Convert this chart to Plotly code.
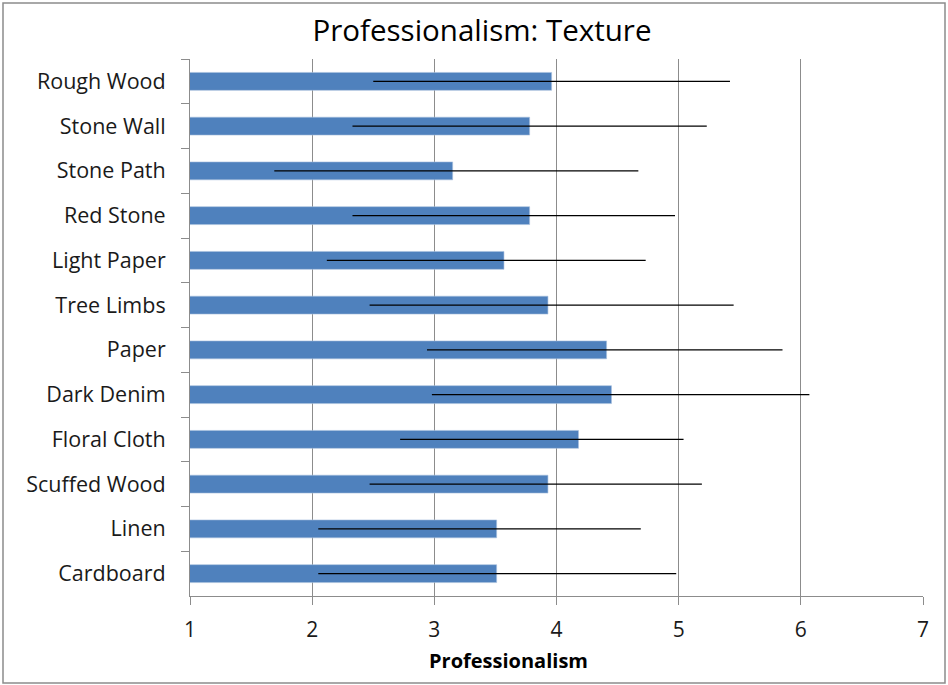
import plotly.graph_objects as go

categories = ["Rough Wood", "Stone Wall", "Stone Path", "Red Stone", "Light Paper",
              "Tree Limbs", "Paper", "Dark Denim", "Floral Cloth", "Scuffed Wood",
              "Linen", "Cardboard"]
means = [3.96, 3.78, 3.15, 3.78, 3.57, 3.93, 4.41, 4.45, 4.18, 3.93, 3.51, 3.51]
err_low = [2.50, 2.33, 1.69, 2.33, 2.12, 2.47, 2.94, 2.98, 2.72, 2.47, 2.05, 2.05]
err_high = [5.42, 5.23, 4.67, 4.97, 4.73, 5.45, 5.85, 6.07, 5.04, 5.19, 4.69, 4.98]
x_ticks = [1, 2, 3, 4, 5, 6, 7]

plus = [h - m for h, m in zip(err_high, means)]
minus = [m - l for m, l in zip(means, err_low)]

W, H = 948, 685
L, R, T, B = 190, 25, 59, 89
pw, ph = W - L - R, H - T - B

fig = go.Figure(go.Bar(
    y=categories, x=means, orientation="h",
    marker=dict(color="#4F81BD", line=dict(color="#A7BFDE", width=0.6)),
    error_x=dict(type="data", symmetric=False, array=plus, arrayminus=minus,
                 color="black", thickness=1.1, width=0),
))

fig.update_layout(
    width=W, height=H,
    margin=dict(l=L, r=R, t=T, b=B),
    paper_bgcolor="white", plot_bgcolor="white",
    bargap=0.6,
    showlegend=False,
    font=dict(family="Open Sans", color="#1a1a1a"),
    title=dict(text="Professionalism: Texture", x=482 / W, xref="container",
               xanchor="center", y=1 - 31 / H, yref="container", yanchor="middle",
               font=dict(size=29.5, family="Open Sans", color="black")),
    xaxis=dict(range=[1, 7], tickvals=x_ticks, showgrid=True, gridcolor="#8c8c8c",
               gridwidth=1, showline=True, linecolor="#8c8c8c", linewidth=1,
               ticks="outside", ticklen=8, tickcolor="#8c8c8c",
               tickfont=dict(size=21, color="#1a1a1a"), ticklabelstandoff=7,
               zeroline=False, fixedrange=True),
    yaxis=dict(categoryorder="array", categoryarray=categories, autorange="reversed",
               showline=True, linecolor="#8c8c8c", linewidth=1, showgrid=False,
               ticks="outside", tickson="boundaries", ticklen=8, tickcolor="#8c8c8c",
               tickfont=dict(size=21.5, color="#1a1a1a"), ticklabelstandoff=19,
               fixedrange=True),
    annotations=[dict(text="<b>Professionalism</b>", xref="paper", yref="paper",
                      x=(508 - L) / pw, y=-(660 - (H - B)) / ph,
                      xanchor="center", yanchor="middle", showarrow=False,
                      font=dict(size=20, family="Open Sans", color="black"))],
    shapes=[dict(type="rect", xref="paper", yref="paper",
                 x0=(3 - L) / pw, x1=(945 - L) / pw,
                 y0=-(683 - (H - B)) / ph, y1=1 + (T - 3) / ph,
                 line=dict(color="#8c8c8c", width=1.5), fillcolor="rgba(0,0,0,0)",
                 layer="below")],
)

fig.write_html("out.html", config={"displayModeBar": False},
               post_script="document.body.style.margin='0';")
